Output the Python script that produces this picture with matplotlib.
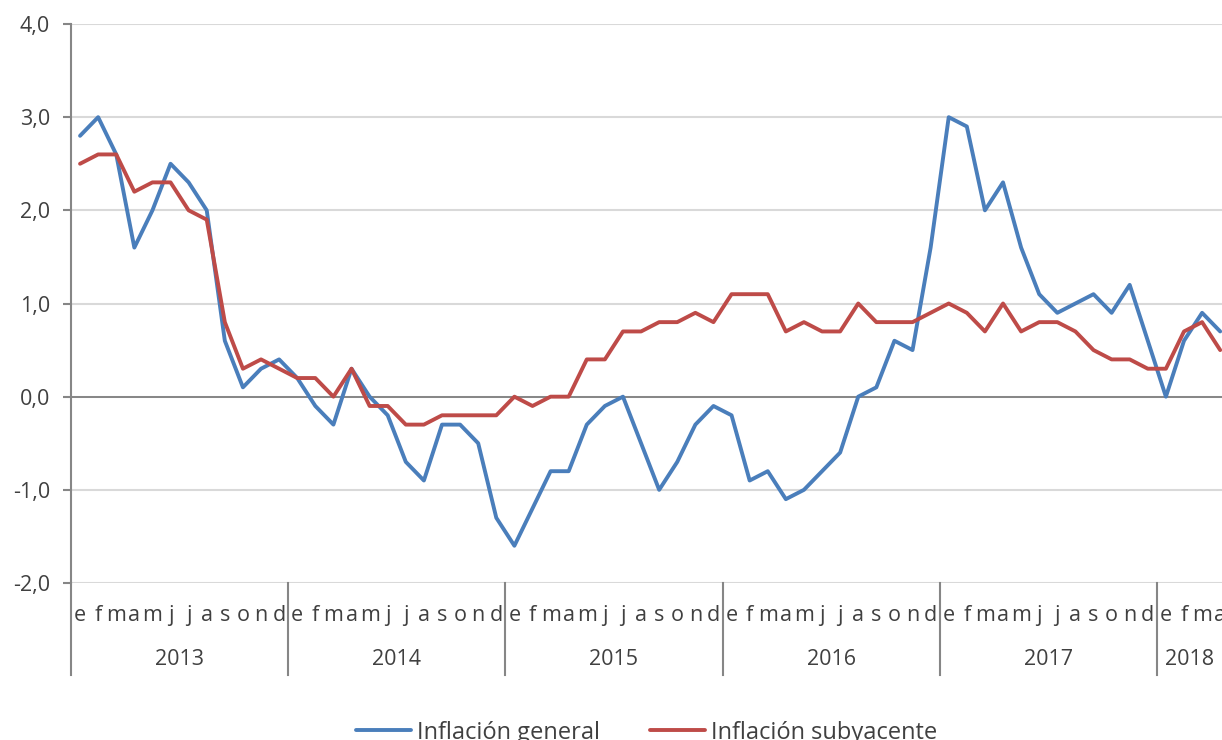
import numpy as np
import matplotlib.pyplot as plt
from matplotlib.lines import Line2D
from matplotlib.ticker import FuncFormatter

plt.rcParams["font.family"] = ["Open Sans", "DejaVu Sans"]

# Monthly inflation rates (%), January 2013 to April 2018
years = ["2013", "2014", "2015", "2016", "2017", "2018"]
months = ["e", "f", "m", "a", "m", "j", "j", "a", "s", "o", "n", "d"]

general = [
    2.8, 3.0, 2.6, 1.6, 2.0, 2.5, 2.3, 2.0, 0.6, 0.1, 0.3, 0.4,
    0.2, -0.1, -0.3, 0.3, 0.0, -0.2, -0.7, -0.9, -0.3, -0.3, -0.5, -1.3,
    -1.6, -1.2, -0.8, -0.8, -0.3, -0.1, 0.0, -0.5, -1.0, -0.7, -0.3, -0.1,
    -0.2, -0.9, -0.8, -1.1, -1.0, -0.8, -0.6, 0.0, 0.1, 0.6, 0.5, 1.6,
    3.0, 2.9, 2.0, 2.3, 1.6, 1.1, 0.9, 1.0, 1.1, 0.9, 1.2, 0.6,
    0.0, 0.6, 0.9, 0.7,
]
subyacente = [
    2.5, 2.6, 2.6, 2.2, 2.3, 2.3, 2.0, 1.9, 0.8, 0.3, 0.4, 0.3,
    0.2, 0.2, 0.0, 0.3, -0.1, -0.1, -0.3, -0.3, -0.2, -0.2, -0.2, -0.2,
    0.0, -0.1, 0.0, 0.0, 0.4, 0.4, 0.7, 0.7, 0.8, 0.8, 0.9, 0.8,
    1.1, 1.1, 1.1, 0.7, 0.8, 0.7, 0.7, 1.0, 0.8, 0.8, 0.8, 0.9,
    1.0, 0.9, 0.7, 1.0, 0.7, 0.8, 0.8, 0.7, 0.5, 0.4, 0.4, 0.3,
    0.3, 0.7, 0.8, 0.5,
]

BLUE = "#4a7ebb"
RED = "#be4b48"
GREY = "#868686"
TEXT = "#404040"

n = len(general)
x = np.arange(n)

fig = plt.figure(figsize=(12.22, 7.40), dpi=100)
ax = fig.add_axes([71 / 1222, 157 / 740, 1151 / 1222, 559 / 740])

ax.plot(x, general, color=BLUE, lw=2.8, solid_joinstyle="round",
        solid_capstyle="round", label="Inflación general", zorder=3)
ax.plot(x, subyacente, color=RED, lw=2.8, solid_joinstyle="round",
        solid_capstyle="round", label="Inflación subyacente", zorder=3)

right = n - 0.9
ax.set_xlim(-0.5, right)
ax.set_ylim(-2, 4)
ax.set_yticks(np.arange(-2, 4.01, 1))
ax.yaxis.set_major_formatter(FuncFormatter(lambda v, _: f"{v:.1f}".replace(".", ",")))
ax.yaxis.grid(True, color="#d9d9d9", lw=1.5)
ax.set_axisbelow(True)
ax.axhline(0, color=GREY, lw=1.4, zorder=2)

for side in ["top", "right", "bottom"]:
    ax.spines[side].set_visible(False)
ax.spines["left"].set_color(GREY)
ax.spines["left"].set_linewidth(1.5)

ax.tick_params(axis="y", length=5.5, width=1.5, color=GREY,
               labelsize=15.5, labelcolor=TEXT, pad=9.5)
ax.set_xticks([])

# two-level category axis: month letters and year groups
trans = ax.get_xaxis_transform()
for i in range(n):
    ax.text(i, -0.058, months[i % 12], transform=trans, ha="center", va="center",
            fontsize=15.5, color=TEXT, clip_on=False)

for k, yr in enumerate(years):
    start = 12 * k - 0.5
    end = min(start + 12, right)
    ax.text((start + end) / 2, -0.136, yr, transform=trans, ha="center",
            va="center", fontsize=15.5, color=TEXT, clip_on=False)
    ax.add_line(Line2D([start, start], [0, -0.165], transform=trans,
                       color=GREY, lw=1.5, clip_on=False))

leg = fig.legend(loc="center", bbox_to_anchor=(0.529, 0.01), ncol=2,
                 frameon=False, fontsize=17, handlelength=2.33,
                 handletextpad=0.25, columnspacing=2.1)
for t in leg.get_texts():
    t.set_color(TEXT)

fig.savefig("out.png", dpi=100)
